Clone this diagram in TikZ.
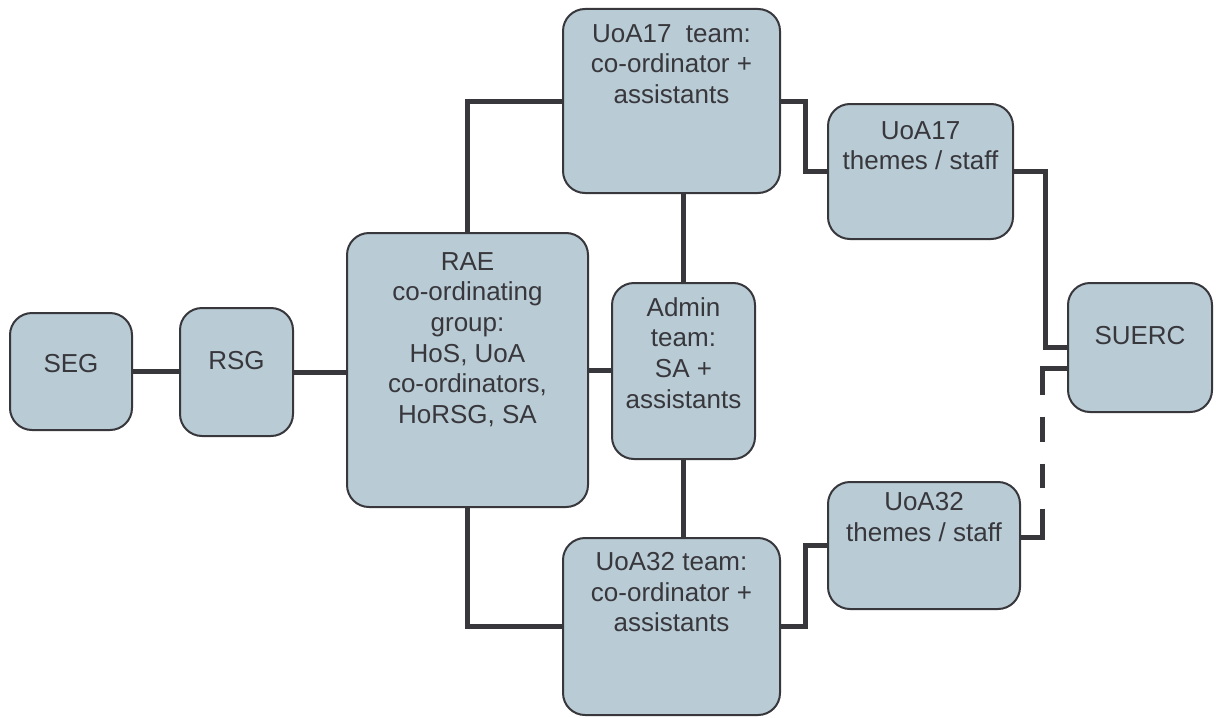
\documentclass[tikz,border=0pt]{standalone}
\usepackage{fontspec}
\setmainfont{Liberation Sans}
\usetikzlibrary{positioning}
\definecolor{boxfill}{RGB}{185,203,213}
\definecolor{linegrey}{RGB}{55,55,60}
\tikzset{
  box/.style={draw=linegrey, line width=1pt, fill=boxfill, rounded corners=11pt, inner sep=0pt},
  txt/.style={align=center, inner sep=0pt, text=linegrey, font=\fontsize{13}{15.3}\selectfont},
  link/.style={draw=linegrey, line width=2.5pt},
}
\begin{document}
\begin{tikzpicture}[x=0.5pt,y=-0.5pt]
  \useasboundingbox (0,0) rectangle (1218,717);

  % boxes
  \node[box, minimum width=61pt, minimum height=58.5pt] (seg) at (71,371.5) {};
  \node[box, minimum width=56.5pt, minimum height=64pt] (rsg) at (236.5,372) {};
  \node[box, minimum width=120.5pt, minimum height=137pt] (rae) at (467.5,370) {};
  \node[box, minimum width=71.5pt, minimum height=88pt] (admin) at (683.5,371) {};
  \node[box, minimum width=108.5pt, minimum height=92pt] (t17) at (671.5,101) {};
  \node[box, minimum width=108.5pt, minimum height=88.5pt] (t32) at (671.5,626.5) {};
  \node[box, minimum width=92.5pt, minimum height=67.5pt] (th17) at (920.5,171.5) {};
  \node[box, minimum width=96pt, minimum height=63.5pt] (th32) at (924,545.5) {};
  \node[box, minimum width=72pt, minimum height=64.5pt] (suerc) at (1140,347.5) {};

  % texts
  \node[txt, below=21pt of seg.north] (seg-t) {SEG};
  \node[txt, below=22pt of rsg.north] (rsg-t) {RSG};
  \node[txt, below=10pt of rae.north] (rae-t) {RAE\\co-ordinating\\group:\\HoS, UoA\\co-ordinators,\\HoRSG, SA};
  \node[txt, below=7.5pt of admin.north] (admin-t) {Admin\\team:\\SA +\\assistants};
  \node[txt, below=8pt of t17.north] (t17-t) {UoA17~~team:\\co-ordinator +\\assistants};
  \node[txt, below=7.5pt of t32.north] (t32-t) {UoA32 team:\\co-ordinator +\\assistants};
  \node[txt, below=9pt of th17.north] (th17-t) {UoA17\\themes / staff};
  \node[txt, below=5.5pt of th32.north] (th32-t) {UoA32\\themes / staff};
  \node[txt, below=22pt of suerc.north] (suerc-t) {SUERC};

  % connectors
  \draw[link] (seg.east) -- (seg.east -| rsg.west);
  \draw[link] (rsg.east) -- (rsg.east -| rae.west);
  \draw[link] (rae.east) -- (rae.east -| admin.west);
  \draw[link] (rae.north) |- (t17.west);
  \draw[link] (rae.south) |- (t32.west);
  \draw[link] (admin.north) -- (admin.north |- t17.south);
  \draw[link] (admin.south) -- (admin.south |- t32.north);
  \draw[link] (t17.east) -- ++(24,0) |- (th17.west);
  \draw[link] (t32.east) -- ++(24,0) |- (th32.west);
  \draw[link] (th17.east) -- ++(31,0) |- (suerc.west);
  \draw[link, dash pattern=on 25.5pt off 11pt on 12.5pt off 11pt on 12pt off 10.5pt on 26pt]
    ([yshift=-10.5pt]suerc.west) -- ++(-25,0) |- ([yshift=4.25pt]th32.east);
\end{tikzpicture}
\end{document}
